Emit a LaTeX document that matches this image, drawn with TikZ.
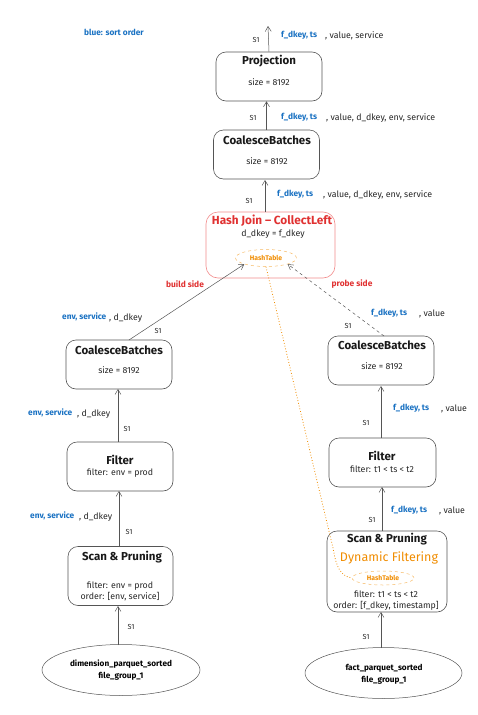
\documentclass[tikz,border=0pt]{standalone}
\usepackage{fontspec}
\setmainfont{Fira Sans}
\usetikzlibrary{arrows.meta,shapes.geometric}
\definecolor{sortblue}{HTML}{1971C2}
\definecolor{jred}{HTML}{E03131}
\definecolor{jredlight}{HTML}{F28B8B}
\definecolor{dforange}{HTML}{F08C00}
\definecolor{edgegray}{HTML}{555555}
\begin{document}
\begin{tikzpicture}[x=1pt,y=-1pt,
  opbox/.style={draw=edgegray, line width=0.6pt, rounded corners=10pt, minimum width=105pt, minimum height=49pt, inner sep=0pt},
  titletxt/.style={font=\bfseries\fontsize{11.5}{13}\selectfont, text=black!90, inner sep=0pt},
  bodytxt/.style={font=\fontsize{8.8}{10}\selectfont, text=black!85, inner sep=0pt},
  bluetxt/.style={font=\bfseries\fontsize{8.3}{9}\selectfont, text=sortblue, inner sep=0pt, anchor=west},
  coltxt/.style={font=\fontsize{8.8}{10}\selectfont, text=black!85, inner sep=0pt, anchor=west},
  stxt/.style={font=\fontsize{7.3}{8}\selectfont, text=black!85, inner sep=0pt},
  redtxt/.style={font=\bfseries\fontsize{8.4}{9}\selectfont, text=jred, inner sep=0pt},
  flow/.style={draw=edgegray, line width=0.5pt, -{Straight Barb[length=5pt,width=6pt]}},
  srcell/.style={ellipse, draw=edgegray, line width=0.5pt, minimum width=158pt, minimum height=51pt, inner sep=0pt},
  srctxt/.style={font=\bfseries\fontsize{8.2}{12}\selectfont, align=center, inner sep=0pt},
  htell/.style={ellipse, draw=dforange!60, dashed, line width=0.5pt, inner sep=0pt, font=\bfseries\fontsize{6.8}{7}\selectfont, text=dforange}
]
\useasboundingbox (0,0) rectangle (478,715);

% legend
\node[bluetxt] (legend) at (84,32) {blue: sort order};

% Projection
\node[opbox, minimum width=106pt] (proj) at (269,76.5) {};
\node[titletxt] (projT) at (269,61) {Projection};
\node[bodytxt] (projB) at (269,82) {size = 8192};
\coordinate (out) at (268,26);
\draw[flow] (proj.north) -- (out);
\node[stxt] (s0) at (256,40) {S1};
\node[bluetxt] (l0a) at (281,35) {f\_dkey, ts};
\node[coltxt] (l0b) at (325,36) {, value, service};

% CoalesceBatches top
\node[opbox, minimum width=106pt] (cbt) at (266.5,154.5) {};
\node[titletxt] (cbtT) at (267,140) {CoalesceBatches};
\node[bodytxt] (cbtB) at (267,161) {size = 8192};
\draw[flow] (cbt.north) -- (cbt.north |- proj.south);
\node[stxt] (s1) at (253,118) {S1};
\node[bluetxt] (l1a) at (281,117) {f\_dkey, ts};
\node[coltxt] (l1b) at (326,118) {, value, d\_dkey, env, service};

% Hash Join
\node[draw=jredlight, line width=0.6pt, rounded corners=12pt, minimum width=129pt, minimum height=66pt, inner sep=0pt] (hj) at (270.5,245) {};
\node[titletxt, text=jred, font=\bfseries\fontsize{11.8}{13}\selectfont] (hjT) at (272,221) {Hash Join – CollectLeft};
\node[bodytxt] (hjB) at (273,234) {d\_dkey = f\_dkey};
\node[htell, minimum width=61pt, minimum height=17pt] (ht1) at (266,258) {HashTable};
\draw[flow] (265,212) -- (265,180);
\node[stxt] (s2) at (249,201) {S1};
\node[bluetxt] (l2a) at (277,194) {f\_dkey, ts};
\node[coltxt] (l2b) at (323,195) {, value, d\_dkey, env, service};

% Left CoalesceBatches
\node[opbox, minimum width=106pt] (cbl) at (119,364.5) {};
\node[titletxt] (cblT) at (119,350) {CoalesceBatches};
\node[bodytxt] (cblB) at (119,370) {size = 8192};
\coordinate (cblTop) at (129,340);
\draw[flow] (cblTop) -- (ht1.south west);
\node[redtxt] (build) at (185,284) {build side};
\node[stxt] (s3) at (158,331) {S1};
\node[bluetxt] (l3a) at (62,317) {env, service};
\node[coltxt] (l3b) at (109,318) {, d\_dkey};

% Right CoalesceBatches
\node[opbox, minimum width=106pt] (cbr) at (381,360.5) {};
\node[titletxt] (cbrT) at (382,345) {CoalesceBatches};
\node[bodytxt] (cbrB) at (382,366) {size = 8192};
\coordinate (cbrTop) at (384,336);
\draw[flow, dashed] (cbrTop) -- (ht1.south east);
\node[redtxt] (probe) at (352,284) {probe side};
\node[stxt] (s4) at (348,326) {S1};
\node[bluetxt] (l4a) at (371,313) {f\_dkey, ts};
\node[coltxt] (l4b) at (419,314) {, value};

% Left Filter
\node[opbox, minimum width=106pt] (fl) at (120,466.5) {};
\node[titletxt] (flT) at (120,460) {Filter};
\node[bodytxt] (flB) at (120,473) {filter: env = prod};
\draw[flow] (118,442) -- (118,389);
\node[stxt] (s5) at (127,429) {S1};
\node[bluetxt] (l5a) at (28,413) {env, service};
\node[coltxt] (l5b) at (77,414) {, d\_dkey};

% Right Filter
\node[opbox, minimum width=107pt] (fr) at (382.5,462.5) {};
\node[titletxt] (frT) at (382,456) {Filter};
\node[bodytxt] (frB) at (382,469) {filter: t1 < ts < t2};
\draw[flow] (381,438) -- (381,386);
\node[stxt] (s6) at (366,423) {S1};
\node[bluetxt] (l6a) at (393,408) {f\_dkey, ts};
\node[coltxt] (l6b) at (441,409) {, value};

% Left Scan
\node[opbox, minimum width=105pt, minimum height=59pt] (scl) at (120.5,576) {};
\node[titletxt] (sclT) at (122,557) {Scan \& Pruning};
\node[bodytxt] (sclB) at (120,586) {filter: env = prod};
\node[bodytxt] (sclC) at (120,597) {order: [env, service]};
\draw[flow] (119,547) -- (119,491);
\node[stxt] (s7) at (129,532) {S1};
\node[bluetxt] (l7a) at (30,516) {env, service};
\node[coltxt] (l7b) at (79,517) {, d\_dkey};

% Right Scan
\node[opbox, minimum width=120pt, minimum height=81pt] (scr) at (387,571.5) {};
\node[titletxt] (scrT) at (387,539) {Scan \& Pruning};
\node[font=\fontsize{12.5}{14}\selectfont, text=dforange, inner sep=0pt] (dyn) at (389,558) {Dynamic Filtering};
\node[htell, minimum width=62pt, minimum height=14pt] (ht2) at (383,578) {HashTable};
\node[bodytxt] (scrB) at (386,594) {filter: t1 < ts < t2};
\node[bodytxt] (scrC) at (386,606) {order: [f\_dkey, timestamp]};
\draw[flow] (382,531) -- (382,487);
\node[stxt] (s8) at (372,520) {S1};
\node[bluetxt] (l8a) at (391,510) {f\_dkey, ts};
\node[coltxt] (l8b) at (439,511) {, value};

% dynamic filter link
\coordinate (bend) at (333,548);
\draw[dforange, dotted, line width=0.8pt] (ht1.south) -- (bend) .. controls (336,566) and (340,576) .. (ht2.west);

% sources
\node[srcell] (srcl) at (121,670) {};
\node[srctxt] (srclT) at (121,670) {dimension\_parquet\_sorted\\file\_group\_1};
\draw[flow] (118,645) -- (118,606);
\node[stxt] (s9) at (131,627) {S1};

\node[srcell, minimum width=157pt] (srcr) at (383.5,673) {};
\node[srctxt] (srcrT) at (384,674) {fact\_parquet\_sorted\\file\_group\_1};
\draw[flow] (381,648) -- (381,612);
\node[stxt] (s10) at (366,637) {S1};
\end{tikzpicture}
\end{document}
